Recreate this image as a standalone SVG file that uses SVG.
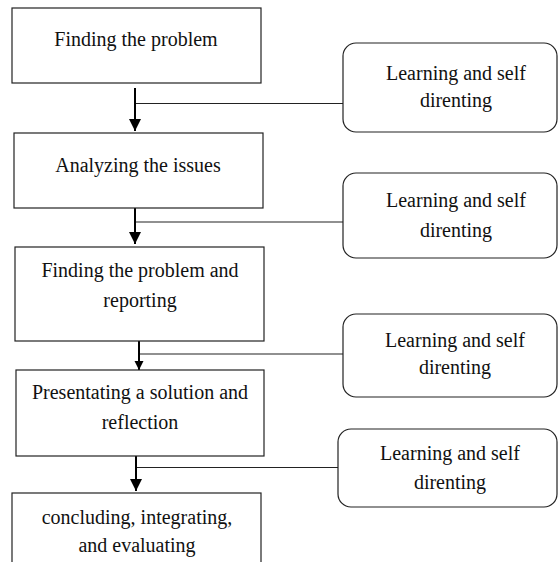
<svg xmlns="http://www.w3.org/2000/svg" width="559" height="562" viewBox="0 0 559 562">
<defs>
<marker id="ah" viewBox="0 0 10 10" refX="10" refY="5" markerWidth="6" markerHeight="7" markerUnits="strokeWidth" orient="auto"><path d="M0,0 L10,5 L0,10 z" fill="#000"/></marker>
<marker id="ah3" viewBox="0 0 10 10" refX="10" refY="5" markerWidth="4.5" markerHeight="5" markerUnits="strokeWidth" orient="auto"><path d="M0,0 L10,5 L0,10 z" fill="#000"/></marker>
</defs>
<style>
.box{fill:#fff;stroke:#222;stroke-width:1.2}
text{font-family:"Liberation Serif","Times New Roman",serif;font-size:20px;fill:#111;text-anchor:middle}
.arr{stroke:#000;stroke-width:2;fill:none}
.ln{stroke:#222;stroke-width:1.2;fill:none}
</style>
<rect width="559" height="562" fill="#fff"/>
<g id="connectors">
<line class="arr" x1="135" y1="88" x2="135" y2="131" marker-end="url(#ah)"/>
<line class="ln" x1="136" y1="103.5" x2="343" y2="103.5"/>
<line class="arr" x1="135" y1="208" x2="135" y2="244" marker-end="url(#ah)"/>
<line class="ln" x1="136" y1="222" x2="343" y2="222"/>
<line class="arr" x1="139" y1="341" x2="139" y2="370" stroke-width="3" marker-end="url(#ah3)"/>
<line class="ln" x1="140" y1="354" x2="343" y2="354"/>
<line class="arr" x1="136" y1="456" x2="136" y2="491" stroke-width="2.5" marker-end="url(#ah)"/>
<line class="ln" x1="137" y1="467.5" x2="338" y2="467.5"/>
</g>
<g id="n1"><rect class="box" x="12" y="8" width="249" height="75"/><text x="136" y="46">Finding the problem</text></g>
<g id="n2"><rect class="box" x="14" y="133" width="249" height="75"/><text x="138" y="172">Analyzing the issues</text></g>
<g id="n3"><rect class="box" x="15" y="247" width="249" height="94"/><text x="140" y="277">Finding the problem and</text><text x="140" y="307">reporting</text></g>
<g id="n4"><rect class="box" x="16" y="370" width="248" height="86"/><text x="140" y="399">Presentating a solution and</text><text x="140" y="429">reflection</text></g>
<g id="n5"><rect class="box" x="12" y="493" width="249" height="80"/><text x="137" y="524">concluding, integrating,</text><text x="137" y="552">and evaluating</text></g>
<g id="s1"><rect class="box" x="343" y="43" width="214" height="89" rx="13"/><text x="456" y="80">Learning and self</text><text x="456" y="107">direnting</text></g>
<g id="s2"><rect class="box" x="343" y="173" width="214" height="85" rx="13"/><text x="456" y="207">Learning and self</text><text x="456" y="237">direnting</text></g>
<g id="s3"><rect class="box" x="343" y="314" width="214" height="83" rx="13"/><text x="455" y="347">Learning and self</text><text x="455" y="374">direnting</text></g>
<g id="s4"><rect class="box" x="338" y="429" width="219" height="78" rx="13"/><text x="450" y="460">Learning and self</text><text x="450" y="489">direnting</text></g>
</svg>
